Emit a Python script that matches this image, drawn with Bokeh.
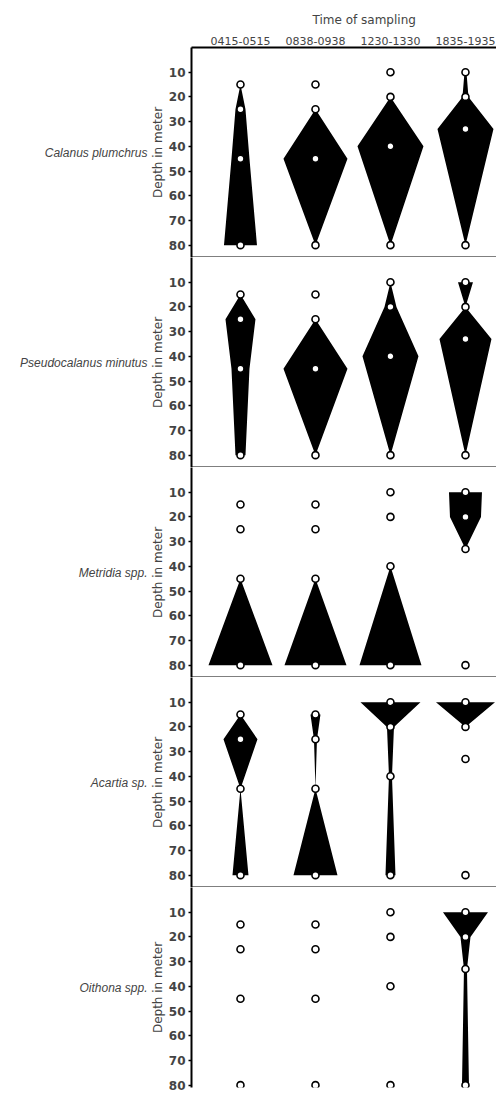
from bokeh.plotting import figure
from bokeh.layouts import column
from bokeh.models import Range1d, LinearAxis, FixedTicker, Title
from bokeh.embed import file_html
from bokeh.resources import INLINE

# ---------------- data ----------------
times = ["0415-0515", "0838-0938", "1230-1330", "1835-1935"]
species = ["Calanus plumchrus", "Pseudocalanus minutus", "Metridia spp.",
           "Acartia sp.", "Oithona spp."]
# sampling depths (m) for each time of sampling
sample_depths = [[15, 25, 45, 80], [15, 25, 45, 80], [10, 20, 40, 80], [10, 20, 33, 80]]
depth_ticks = [10, 20, 30, 40, 50, 60, 70, 80]

# relative abundance at each sampling depth (one list per time of sampling)
calanus = [[0, 5, 9, 16.5], [0, 0, 32, 0], [0, 0, 33, 0], [1, 3, 28, 0]]
pseudocalanus = [[0, 15, 9, 5], [0, 0, 32, 0], [0, 6, 28, 0], [7.5, 0, 26, 0]]
metridia = [[0, 0, 0, 32], [0, 0, 0, 31], [0, 0, 0, 31], [16.5, 15.5, 0, 0]]
acartia = [[0, 17, 0, 8], [5, 1.5, 0, 22], [30, 3.5, 1.5, 5], [29.5, 0, 0, 0]]
oithona = [[0, 0, 0, 0], [0, 0, 0, 0], [0, 0, 0, 0], [22.5, 5, 1.5, 3.5]]

all_values = [calanus, pseudocalanus, metridia, acartia, oithona]

# ---------------- style ----------------
W_SCALE = 1 / 75.0
FW = 305
FH = 210
FH_LAST = 200
PX_PER_M = 210 / 85.0
X0 = 0.347
FONT = "DejaVu Sans"


def quiet_axis(ax):
    ax.major_tick_out = 0
    ax.major_tick_in = 0
    ax.minor_tick_out = 0
    ax.minor_tick_in = 0
    ax.major_tick_line_color = None
    ax.minor_tick_line_color = None
    ax.major_label_standoff = 0
    ax.major_label_text_font_size = "0px"
    ax.major_label_text_color = None


def make_panel(name, values, first, last):
    fh = FH_LAST if last else FH
    p = figure(frame_width=FW, frame_height=fh,
               x_range=Range1d(X0, X0 + FW / 75.0),
               y_range=Range1d(fh / PX_PER_M, 0),
               output_backend="svg", toolbar_location=None,
               x_axis_location=None, y_axis_location=None,
               min_border_left=191, min_border_right=0,
               min_border_top=47 if first else 0,
               min_border_bottom=6 if last else 0)
    p.outline_line_color = None
    p.grid.grid_line_color = None
    p.background_fill_color = "white"
    p.border_fill_color = "white"

    yax = LinearAxis(ticker=FixedTicker(ticks=depth_ticks, minor_ticks=[]),
                     axis_label="Depth in meter")
    yax.axis_line_width = 2
    yax.major_tick_out = 3
    yax.major_tick_in = 0
    yax.minor_tick_out = 0
    yax.minor_tick_in = 0
    yax.major_tick_line_width = 1.5
    yax.major_label_text_font = FONT
    yax.major_label_text_font_size = "12px"
    yax.major_label_text_font_style = "bold"
    yax.major_label_standoff = 3
    yax.axis_label_text_font = FONT
    yax.axis_label_text_font_size = "12px"
    yax.axis_label_text_font_style = "normal"
    yax.axis_label_standoff = 1
    p.add_layout(yax, "left")

    sax = LinearAxis(ticker=FixedTicker(ticks=[], minor_ticks=[]), axis_label=name)
    quiet_axis(sax)
    sax.axis_line_color = None
    sax.axis_label_orientation = "horizontal"
    sax.axis_label_text_font = "Liberation Sans"
    sax.axis_label_text_font_size = "12px"
    sax.axis_label_text_font_style = "italic"
    sax.axis_label_standoff = 0
    p.add_layout(sax, "left")

    if first:
        tax = LinearAxis(ticker=FixedTicker(ticks=[1, 2, 3, 4], minor_ticks=[]),
                         major_label_overrides={i + 1: t for i, t in enumerate(times)})
        tax.axis_line_width = 2
        tax.major_tick_out = 0
        tax.major_tick_in = 0
        tax.minor_tick_out = 0
        tax.minor_tick_in = 0
        tax.major_label_standoff = 3
        tax.major_label_text_font = FONT
        tax.major_label_text_font_size = "11px"
        p.add_layout(tax, "above")
        p.add_layout(Title(text="Time of sampling", align="left", offset=121,
                           text_font=FONT, text_font_size="12px",
                           text_font_style="normal", standoff=14), "above")

    if not last:
        bax = LinearAxis(ticker=FixedTicker(ticks=[], minor_ticks=[]))
        quiet_axis(bax)
        bax.axis_line_width = 2
        p.add_layout(bax, "below")

    xs, ys = [], []
    for j, (d, v) in enumerate(zip(sample_depths, values)):
        c = j + 1
        left = [c - w * W_SCALE for w in v]
        right = [c + w * W_SCALE for w in reversed(v)]
        xs.append(left + right)
        ys.append(list(d) + list(d[::-1]))
    p.patches(xs=xs, ys=ys, fill_color="black", line_color=None)

    px = [j + 1 for j, d in enumerate(sample_depths) for _ in d]
    py = [dd for d in sample_depths for dd in d]
    p.scatter(x=px, y=py, size=7, marker="circle", fill_color="white",
              line_color="black", line_width=1.6)
    return p


figs = []
n = len(species)
for k, (name, vals) in enumerate(zip(species, all_values)):
    figs.append(make_panel(name, vals, k == 0, k == n - 1))

layout = column(*figs, spacing=0)
open("out.html", "w").write(file_html(layout, INLINE))
